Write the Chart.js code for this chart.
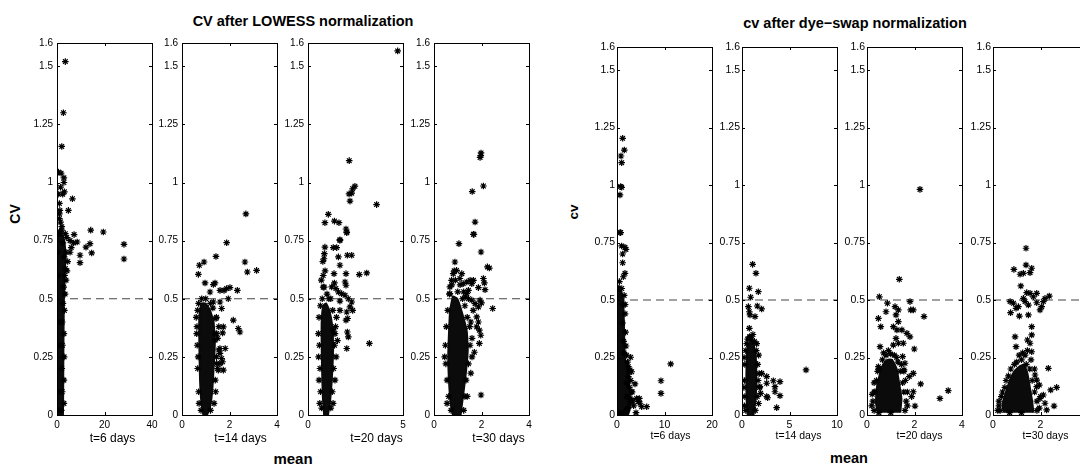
<!DOCTYPE html>
<html>
<head>
<meta charset="utf-8">
<title>CV after normalization</title>
<script src="https://cdn.jsdelivr.net/npm/chart.js@4.4.0/dist/chart.umd.min.js"></script>
<style>
  html, body { margin: 0; padding: 0; background: #fff; overflow: hidden; }
  body { width: 1080px; height: 464px; position: relative; font-family: 'Liberation Sans', Arial, Helvetica, sans-serif; }
  canvas { position: absolute; }
  .lbl { position: absolute; font-weight: bold; color: #000; white-space: nowrap; line-height: 1; transform: translate(-50%, -50%); }
</style>
</head>
<body>
<div class="lbl" style="left:303px; top:21px; font-size:14.5px;">CV after LOWESS normalization</div>
<div class="lbl" style="left:855px; top:23px; font-size:14.5px;">cv after dye&#8722;swap normalization</div>
<div class="lbl" style="left:15px; top:214px; font-size:14px; transform: translate(-50%, -50%) rotate(-90deg);">CV</div>
<div class="lbl" style="left:574px; top:212px; font-size:13.5px; transform: translate(-50%, -50%) rotate(-90deg);">cv</div>
<div class="lbl" style="left:293px; top:458px; font-size:15px;">mean</div>
<div class="lbl" style="left:849px; top:458px; font-size:14.5px;">mean</div>

<script>
// ---- data ----
const yTicks = [0, 0.25, 0.5, 0.75, 1, 1.25, 1.5, 1.6];
const cutoff = 0.5;

// LOWESS, t=6 days
const lowess6Ticks = [0, 20, 40];
const lowess6Core = [[0,0],[0,0.78],[1.5,0.8],[3,0.75],[3.6,0.68],[3.2,0.6],[2.9,0.5],[2.7,0.3],[2.6,0.1],[2.5,0]];
const lowess6 = [[3.5,1.52],[2.7,1.30],[2.0,1.155],[0.6,1.045],[1.7,1.04],[2.9,1.02],[2.9,1.0],[2.4,0.95],[3.1,0.96],
  [6.5,0.93],[4.8,0.88],[1.0,0.91],[1.0,0.865],[1.0,0.845],[2.0,0.81],[2.0,0.795],[14.2,0.795],[19.5,0.787],[7.2,0.776],
  [4.1,0.763],[28.2,0.734],[28.2,0.671],[13.9,0.737],[14.6,0.697],[9.7,0.687],[9.7,0.655],[12.2,0.722],[8.5,0.744],
  [5.5,0.75],[3.5,0.78],[1.2,0.88],[1.5,0.83],[0.5,0.95],[1.5,0.98],
  [0.5,0.02],[1.8,0.02],[2.2,0.1],[2.0,0.2],[2.3,0.3],[2.2,0.4],[2.5,0.48],[2.8,0.55],[3.2,0.6],[3.5,0.63],[4.5,0.66],
  [5.5,0.7],[3.8,0.7],[0.5,0.3],[0.4,0.6],[1.0,0.78],[2.5,0.74],[6.0,0.72],[7.0,0.74],[3.0,0.68],
  [2.9,0.05],[2.9,0.15],[3.0,0.25],[2.9,0.35],[3.1,0.45],[3.4,0.52],[3.8,0.58],[4.2,0.62],[0.3,0.1],[0.3,0.4],[0.3,0.7]];

// LOWESS, t=14 days
const lowess14Ticks = [0, 2, 4];
const lowess14Core = [[0.9,0],[0.82,0.05],[0.76,0.15],[0.73,0.3],[0.73,0.42],[0.82,0.48],[1.0,0.48],[1.18,0.45],
  [1.33,0.4],[1.38,0.3],[1.33,0.2],[1.27,0.1],[1.17,0.03],[1.05,0]];
const lowess14 = [[2.69,0.865],[1.88,0.741],[1.43,0.682],[0.73,0.644],[0.93,0.658],[0.69,0.605],[2.65,0.658],[2.75,0.615],
  [3.14,0.622],[0.97,0.568],[1.32,0.561],[1.39,0.568],[1.6,0.536],[2.02,0.548],[1.88,0.544],[1.77,0.536],[2.33,0.536],
  [1.18,0.529],[0.83,0.50],[1.95,0.50],[1.6,0.486],[1.32,0.486],[2.16,0.408],[2.37,0.372],[2.44,0.357],[1.67,0.458],
  [1.71,0.353],[1.74,0.379],[1.6,0.286],[1.82,0.286],[1.6,0.265],[1.67,0.243],[1.71,0.229],[1.74,0.193],[1.46,0.222],
  [1.53,0.193],[1.39,0.322],[1.46,0.35],[1.43,0.415],
  [0.7,0.1],[0.66,0.2],[0.64,0.3],[0.63,0.38],[0.66,0.45],[1.4,0.15],[1.45,0.25],[1.5,0.33],[1.45,0.42],[1.3,0.46],
  [0.8,0.02],[1.2,0.02],[1.6,0.22],[1.55,0.28],
  [0.72,0.05],[0.68,0.25],[0.62,0.35],[0.6,0.42],[0.7,0.48],[1.35,0.05],[1.42,0.1],[1.5,0.2],[1.55,0.38],[1.38,0.35],
  [1.2,0.48],[1.0,0.5]];

// LOWESS, t=20 days
const lowess20Ticks = [0, 5];
const lowess20Core = [[0.85,0],[0.78,0.08],[0.74,0.2],[0.72,0.3],[0.72,0.4],[0.8,0.47],[0.95,0.48],[1.12,0.45],
  [1.28,0.38],[1.32,0.28],[1.25,0.15],[1.15,0.05],[1.05,0]];
const lowess20 = [[4.72,1.566],[2.17,1.094],[2.47,0.984],[2.35,0.973],[2.3,0.954],[2.16,0.951],[2.21,0.92],[3.61,0.905],
  [1.07,0.863],[0.89,0.827],[1.39,0.834],[1.63,0.827],[2.0,0.80],[2.04,0.784],[1.68,0.754],
  [0.89,0.722],[0.86,0.694],[0.84,0.672],[1.33,0.72],[1.51,0.72],[1.68,0.751],[2.04,0.787],[1.6,0.68],[2.07,0.687],
  [2.3,0.687],[1.68,0.644],[1.37,0.608],[2.0,0.608],[2.7,0.604],[3.09,0.611],[1.25,0.551],[1.39,0.568],[1.47,0.544],
  [1.95,0.572],[2.0,0.558],[1.6,0.529],[1.77,0.522],[1.95,0.515],[2.12,0.50],[2.3,0.486],[2.21,0.465],[2.35,0.45],
  [1.68,0.45],[1.68,0.49],[2.04,0.443],[2.09,0.415],[2.0,0.408],[2.07,0.357],[2.12,0.336],[2.04,0.286],[3.23,0.308],
  [1.33,0.365],[1.42,0.35],
  [0.72,0.03],[1.2,0.03],[0.66,0.1],[1.28,0.1],[0.63,0.2],[1.35,0.2],[0.6,0.3],[1.4,0.3],[0.55,0.35],[1.45,0.38],
  [0.58,0.42],[1.5,0.42],[0.65,0.47],[0.75,0.5],[0.85,0.55],[0.8,0.6],[0.9,0.62],[0.7,0.58],[1.0,0.52],[1.3,0.45],
  [0.62,0.05],[0.58,0.15],[0.56,0.25],[1.32,0.05],[1.42,0.15],[1.48,0.25],[1.55,0.32],[1.2,0.5],[0.78,0.66],
  [0.8,0.55],[1.1,0.5]];

// LOWESS, t=30 days
const lowess30Ticks = [0, 2, 4];
const lowess30Core = [[0.8,0],[0.7,0.05],[0.63,0.15],[0.6,0.25],[0.63,0.35],[0.68,0.45],[0.8,0.51],[0.98,0.5],
  [1.18,0.44],[1.38,0.36],[1.42,0.28],[1.34,0.18],[1.22,0.08],[1.12,0]];
const lowess30 = [[1.98,1.127],[1.97,1.116],[1.94,1.108],[2.08,0.985],[1.61,0.961],[1.73,0.83],[1.68,0.777],
  [1.66,0.777],[1.05,0.737],[1.98,0.701],[2.25,0.637],[2.33,0.632],[2.08,0.587],[2.12,0.568],[2.15,0.539],[1.94,0.494],
  [2.0,0.482],[2.47,0.458],[1.87,0.548],[1.66,0.579],[1.52,0.579],[1.38,0.572],[1.59,0.565],[1.45,0.536],[1.38,0.522],
  [1.31,0.508],[1.45,0.50],[1.59,0.494],[1.73,0.479],[1.87,0.465],[1.8,0.422],[1.87,0.40],[1.8,0.379],[1.91,0.365],
  [1.97,0.343],[1.91,0.308],[1.98,0.086],[0.88,0.658],[0.95,0.622],[0.81,0.608],[0.74,0.579],[0.67,0.551],[0.67,0.522],
  [1.09,0.587],[1.23,0.565],[1.17,0.608],[1.6,0.33],[1.7,0.27],[1.55,0.4],[1.65,0.45],
  [0.72,0.02],[1.25,0.02],[0.62,0.08],[1.3,0.08],[0.55,0.15],[1.35,0.15],[0.5,0.22],[1.45,0.22],[0.48,0.3],[1.52,0.3],
  [0.52,0.38],[1.5,0.38],[0.58,0.45],[1.4,0.42],[0.65,0.52],[1.3,0.47],[1.2,0.5],[1.0,0.53],[0.75,0.56],[0.9,0.58],
  [0.45,0.25],[1.6,0.25],[1.55,0.18],[1.4,0.08],[0.55,0.05],[1.1,0.56],[0.85,0.62],[1.25,0.53]];

// dye-swap, t=6 days
const dye6Ticks = [0, 10, 20];
const dye6Core = [[0,0],[0,0.54],[0.6,0.56],[1.3,0.5],[1.45,0.4],[1.55,0.3],[1.8,0.22],[2.4,0.2],[2.6,0.12],[3.0,0.06],
  [2.6,0.02],[2.3,0]];
const dye6 = [[1.19,1.203],[1.54,1.152],[0.84,1.126],[0.98,1.097],[0.77,0.993],[0.98,0.99],[0.63,0.957],[0.77,0.793],
  [0.63,0.793],[0.98,0.735],[1.68,0.729],[1.89,0.72],[1.19,0.70],[1.19,0.662],[1.68,0.616],[1.33,0.601],[2.88,0.251],
  [2.39,0.21],[2.74,0.196],[3.09,0.188],[2.39,0.167],[3.79,0.135],[3.09,0.101],[4.14,0.072],[4.84,0.051],[6.25,0.036],
  [5.19,0.036],[4.7,0.072],[4.49,0.058],[4.0,0.01],[11.3,0.222],[9.26,0.149],[9.26,0.094],[2.04,0.08],[2.74,0.058],
  [3.09,0.065],
  [0.3,0.55],[1.0,0.55],[1.3,0.48],[1.2,0.4],[1.4,0.32],[1.5,0.27],[2.2,0.23],[2.5,0.19],[2.6,0.12],[2.8,0.07],
  [2.3,0.03],[1.5,0.01],[0.5,0.01],[3.3,0.06],[2.0,0.14],
  [1.5,0.52],[1.7,0.44],[1.8,0.36],[1.9,0.3],[2.0,0.26],[2.9,0.15],[3.2,0.1],[3.5,0.04],[2.0,0.02],[1.7,0.48],[0.5,0.58]];

// dye-swap, t=14 days
const dye14Ticks = [0, 5, 10];
const dye14Core = [[0.6,0],[0.5,0.05],[0.45,0.15],[0.5,0.25],[0.6,0.3],[0.9,0.32],[1.2,0.31],[1.45,0.25],[1.5,0.15],
  [1.42,0.06],[1.2,0]];
const dye14 = [[1.12,0.655],[1.47,0.616],[0.77,0.551],[0.91,0.512],[1.72,0.536],[1.61,0.474],[2.07,0.461],[1.37,0.428],
  [0.67,0.471],[0.77,0.449],[0.84,0.435],[0.77,0.377],[0.84,0.34],[2.6,0.167],[2.6,0.138],[3.3,0.149],[2.6,0.08],
  [2.7,0.075],[3.47,0.123],[3.47,0.101],[4.0,0.084],[3.65,0.032],[4.0,0.145],[6.74,0.196],[2.07,0.181],[1.89,0.123],
  [1.96,0.094],
  [0.4,0.02],[1.4,0.02],[0.3,0.08],[1.6,0.08],[0.25,0.15],[1.7,0.15],[0.3,0.22],[1.65,0.22],[0.4,0.28],[1.5,0.28],
  [0.6,0.33],[1.0,0.33],[1.3,0.32],[0.8,0.34],
  [1.75,0.05],[1.85,0.12],[1.8,0.18],[1.75,0.26],[1.55,0.31],[0.25,0.04],[0.2,0.12],[0.22,0.25],[0.5,0.31],[1.15,0.35]];

// dye-swap, t=20 days
const dye20Ticks = [0, 2, 4];
const dye20Core = [[0.45,0.01],[0.38,0.05],[0.42,0.12],[0.55,0.18],[0.68,0.22],[0.85,0.24],[1.05,0.24],[1.25,0.2],
  [1.35,0.14],[1.45,0.07],[1.4,0.01]];
const dye20 = [[2.23,0.981],[1.36,0.59],[0.52,0.514],[0.86,0.486],[0.8,0.449],[0.48,0.42],[0.58,0.384],[0.55,0.297],
  [1.18,0.471],[1.32,0.457],[1.81,0.493],[1.84,0.457],[1.95,0.457],[2.4,0.428],[1.22,0.435],[1.32,0.406],[1.11,0.384],
  [1.26,0.37],[1.47,0.37],[1.68,0.355],[1.81,0.34],[1.22,0.333],[1.32,0.312],[1.11,0.304],[1.53,0.312],[1.99,0.287],
  [1.5,0.254],[1.6,0.225],[1.56,0.196],[0.48,0.21],[1.78,0.167],[1.95,0.181],[2.26,0.135],[1.95,0.101],[1.88,0.08],
  [2.02,0.039],[3.07,0.072],[3.42,0.106],[0.34,0.101],
  [0.3,0.02],[1.6,0.02],[0.25,0.06],[1.65,0.06],[0.3,0.1],[1.55,0.1],[0.4,0.15],[1.5,0.14],[0.5,0.2],[1.4,0.19],
  [0.65,0.24],[1.3,0.23],[0.8,0.26],[1.0,0.265],[1.15,0.26],[0.5,0.01],[1.0,0.01],
  [0.2,0.04],[0.22,0.09],[0.3,0.14],[0.45,0.19],[1.7,0.04],[1.7,0.1],[1.62,0.15],[1.55,0.19],[1.45,0.22],[0.7,0.27],
  [1.25,0.25],[0.9,0.28]];

// dye-swap, t=30 days
const dye30Ticks = [0, 2, 4];
const dye30Core = [[0.45,0.01],[0.4,0.05],[0.55,0.1],[0.7,0.15],[0.9,0.19],[1.1,0.21],[1.3,0.22],[1.45,0.18],
  [1.55,0.12],[1.65,0.06],[1.7,0.01]];
const dye30 = [[1.39,0.725],[1.39,0.652],[1.63,0.638],[1.56,0.619],[1.28,0.616],[1.14,0.612],[0.88,0.633],[1.17,0.561],
  [0.74,0.445],[0.72,0.493],[0.86,0.486],[1.07,0.471],[0.97,0.464],[1.11,0.43],[1.42,0.532],[1.56,0.529],[1.84,0.529],
  [1.7,0.514],[1.84,0.488],[2.12,0.493],[2.05,0.471],[2.19,0.507],[2.37,0.517],[1.98,0.457],[1.28,0.507],[1.35,0.493],
  [1.49,0.478],[1.49,0.435],[1.63,0.384],[1.63,0.348],[1.56,0.312],[1.63,0.275],[0.93,0.34],[0.97,0.297],[1.45,0.326],
  [2.33,0.203],[2.68,0.12],[2.43,0.109],[2.12,0.087],[1.98,0.072],[2.19,0.051],[2.26,0.022],[2.57,0.039],[1.84,0.152],
  [1.84,0.123],[1.77,0.174],
  [0.3,0.02],[1.85,0.02],[0.25,0.06],[1.85,0.06],[0.4,0.1],[1.75,0.1],[0.55,0.15],[1.65,0.15],[0.75,0.2],[1.55,0.2],
  [1.0,0.23],[1.2,0.24],[1.35,0.26],[1.4,0.22],[0.7,0.01],[1.2,0.01],[1.1,0.26],
  [0.2,0.02],[0.25,0.04],[0.35,0.08],[0.5,0.12],[0.65,0.17],[0.9,0.22],[1.95,0.03],[2.0,0.08],[1.95,0.13],[1.75,0.2],
  [1.6,0.24],[1.25,0.27],[1.45,0.28]];

// ---- layout ----
const PANEL_W = 95, AXIS_BOTTOM = 415;
const PAD_L = 44, PAD_T = 10, PAD_R = 18, PAD_B = 40;
const groups = {
  L: { top: 43, tickFont: 10, yPad: 4, labelFont: 12, labelY: 439 },
  R: { top: 47, tickFont: 10.5, yPad: 2, labelFont: 10.5, labelY: 436 }
};
const panels = [
  { g: 'L', left: 57,  xMax: 40, ticks: lowess6Ticks,  pts: lowess6,  core: lowess6Core,  label: 't=6 days',  dx: 8 },
  { g: 'L', left: 182, xMax: 4,  ticks: lowess14Ticks, pts: lowess14, core: lowess14Core, label: 't=14 days', dx: 11 },
  { g: 'L', left: 308, xMax: 5,  ticks: lowess20Ticks, pts: lowess20, core: lowess20Core, label: 't=20 days', dx: 21 },
  { g: 'L', left: 434, xMax: 4,  ticks: lowess30Ticks, pts: lowess30, core: lowess30Core, label: 't=30 days', dx: 17 },
  { g: 'R', left: 617, xMax: 20, ticks: dye6Ticks,  pts: dye6,  core: dye6Core,  label: 't=6 days',  dx: 6 },
  { g: 'R', left: 742, xMax: 10, ticks: dye14Ticks, pts: dye14, core: dye14Core, label: 't=14 days', dx: 9 },
  { g: 'R', left: 867, xMax: 4,  ticks: dye20Ticks, pts: dye20, core: dye20Core, label: 't=20 days', dx: 5 },
  { g: 'R', left: 993, xMax: 4,  ticks: dye30Ticks, pts: dye30, core: dye30Core, label: 't=30 days', dx: 5 }
];

const FONT = "'Liberation Sans', Arial, Helvetica, sans-serif";
const toXY = arr => arr.map(p => ({ x: p[0], y: p[1] }));

// box around the axes, inward tick marks and the t=.. label (MATLAB look)
const framePlugin = {
  id: 'frame',
  afterDraw(chart, args, opts) {
    const { ctx, chartArea: a, scales } = chart;
    ctx.save();
    ctx.strokeStyle = '#000';
    ctx.lineWidth = 1;
    ctx.strokeRect(Math.round(a.left) + 0.5, Math.round(a.top) + 0.5, Math.round(a.right - a.left), Math.round(a.bottom - a.top));
    ctx.beginPath();
    scales.y.ticks.forEach(t => {
      if (t.value <= 0 || t.value >= 1.6) return;
      const y = Math.round(scales.y.getPixelForValue(t.value)) + 0.5;
      ctx.moveTo(a.left, y); ctx.lineTo(a.left + 3, y);
      ctx.moveTo(a.right, y); ctx.lineTo(a.right - 3, y);
    });
    scales.x.ticks.forEach(t => {
      if (t.value <= 0 || t.value >= scales.x.max) return;
      const x = Math.round(scales.x.getPixelForValue(t.value)) + 0.5;
      ctx.moveTo(x, a.bottom); ctx.lineTo(x, a.bottom - 3);
      ctx.moveTo(x, a.top); ctx.lineTo(x, a.top + 3);
    });
    ctx.stroke();
    ctx.fillStyle = '#000';
    ctx.font = opts.labelFont + 'px ' + FONT;
    ctx.textAlign = 'center';
    ctx.textBaseline = 'middle';
    ctx.fillText(opts.label, (a.left + a.right) / 2 + opts.dx, opts.labelY);
    ctx.restore();
  }
};

panels.forEach(p => {
  const g = groups[p.g];
  const canvas = document.createElement('canvas');
  const h = PAD_T + (AXIS_BOTTOM - g.top) + PAD_B;
  canvas.width = PAD_L + PANEL_W + PAD_R;
  canvas.height = h;
  canvas.style.left = (p.left - PAD_L) + 'px';
  canvas.style.top = (g.top - PAD_T) + 'px';
  document.body.appendChild(canvas);

  new Chart(canvas.getContext('2d'), {
    type: 'scatter',
    data: {
      datasets: [
        { data: toXY(p.pts), pointStyle: 'star', pointRadius: 3.3, pointHoverRadius: 3.3,
          borderColor: '#000', backgroundColor: '#000', borderWidth: 1.2 },
        { type: 'line', data: toXY(p.core), showLine: true, fill: 'shape', tension: 0.12,
          backgroundColor: '#0b0b0b', borderColor: '#0b0b0b', borderWidth: 2, pointRadius: 0 },
        { type: 'line', data: [{ x: 0, y: cutoff }, { x: p.xMax, y: cutoff }], showLine: true,
          borderColor: '#444', borderWidth: 1, borderDash: [8, 5], pointRadius: 0, fill: false }
      ]
    },
    options: {
      responsive: false,
      animation: false,
      devicePixelRatio: 1,
      events: [],
      layout: { padding: { left: 0, top: PAD_T, right: PAD_R, bottom: 0 } },
      plugins: {
        legend: { display: false },
        tooltip: { enabled: false },
        frame: { label: p.label, dx: p.dx, labelFont: g.labelFont, labelY: g.labelY - (g.top - PAD_T) }
      },
      scales: {
        x: {
          type: 'linear', min: 0, max: p.xMax,
          afterBuildTicks: s => { s.ticks = p.ticks.map(v => ({ value: v })); },
          afterFit: s => { s.height = PAD_B; },
          grid: { display: false, drawTicks: false },
          border: { display: false },
          ticks: { padding: 4, color: '#000', maxRotation: 0, autoSkip: false,
            font: { size: g.tickFont, family: FONT }, callback: v => String(v) }
        },
        y: {
          type: 'linear', min: 0, max: 1.6,
          afterBuildTicks: s => { s.ticks = yTicks.map(v => ({ value: v })); },
          afterFit: s => { s.width = PAD_L; },
          grid: { display: false, drawTicks: false },
          border: { display: false },
          ticks: { padding: g.yPad, color: '#000', autoSkip: false,
            font: { size: g.tickFont, family: FONT }, callback: v => String(v) }
        }
      }
    },
    plugins: [framePlugin]
  });
});
</script>
</body>
</html>
